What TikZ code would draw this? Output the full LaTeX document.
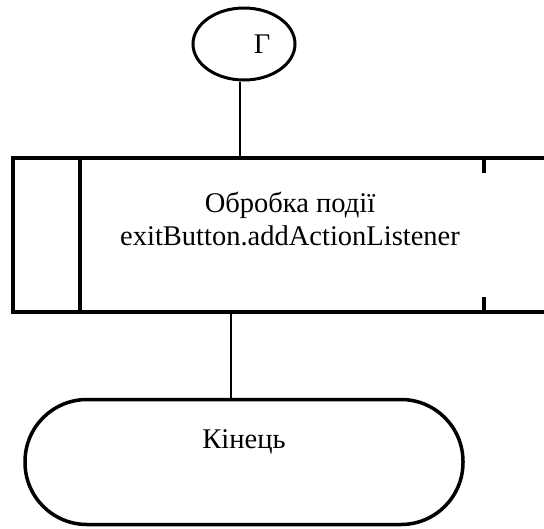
\documentclass[tikz,border=0pt]{standalone}
\usepackage{fontspec}
\setmainfont{Liberation Serif}
\usetikzlibrary{shapes.geometric}
\begin{document}
\begin{tikzpicture}[x=1pt,y=-1pt,
  every node/.style={font=\fontsize{28.5}{33}\selectfont},
  conn/.style={line width=1.6pt},
  boxline/.style={line width=4pt},
  oval/.style={draw, ellipse, line width=3pt, minimum width=102pt, minimum height=72pt, inner sep=0pt},
  term/.style={draw, rectangle, rounded corners=62pt, line width=3.5pt, minimum width=438pt, minimum height=125pt, inner sep=0pt}]
\useasboundingbox (0,0) rectangle (544,528);
% connector node
\node[oval] (g) at (244,44) {\hspace*{36pt}Γ};
% process block (right side runs off the picture)
\node[minimum width=531pt, minimum height=154pt, inner sep=0pt, anchor=north west] (p) at (13,158) {};
\draw[boxline] (p.north east) -- (p.north west) -- (p.south west) -- (p.south east);
\draw[boxline] (80,158) -- (80,312);
\draw[boxline] (484,158) -- (484,173);
\draw[boxline] (484,297) -- (484,312);
\node[align=center] (pt) at (290,219) {Обробка події\\exitButton.addActionListener};
% terminal
\node[term] (e) at (244,462) {};
\node (et) at (244,442) {Кінець};
% connectors
\coordinate (c1) at (240,158);
\draw[conn] (g.south -| c1) -- (c1);
\coordinate (c2) at (231,312);
\draw[conn] (c2) -- (c2 |- e.north);
\end{tikzpicture}
\end{document}
